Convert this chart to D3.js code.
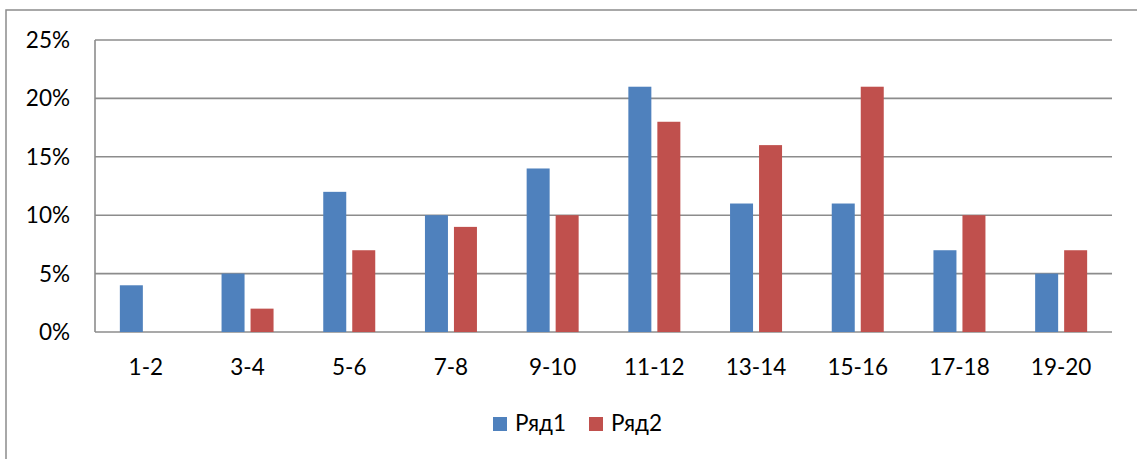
<!DOCTYPE html>
<html>
<head>
<meta charset="utf-8">
<script src="https://d3js.org/d3.v7.min.js"></script>
<style>
	body { margin:0; background:#fff; }
	text { font-family: Lato, "Open Sans", sans-serif; fill:#000; }
	.grid line { stroke:#8c8c8c; stroke-width:1.6px; }
</style>
</head>
<body>
<div class="chartContainer"></div>
<script>
// values (percent)
var categories = ["1-2","3-4","5-6","7-8","9-10","11-12","13-14","15-16","17-18","19-20"];
var series1 = [4,5,12,10,14,21,11,11,7,5];
var series2 = [0,2,7,9,10,18,16,21,10,7];
var seriesNames = ["Ряд1","Ряд2"];
var seriesColors = ["#4f81bd","#c0504d"];
var yTicks = [0,5,10,15,20,25];

var totalWidth = 1137, totalHeight = 459;
var margin = {top: 40, right: 25, bottom: 127, left: 95};
var width = 1112 - margin.left, height = 332 - margin.top;

var svg = d3.select(".chartContainer").append("svg")
	.attr("width", totalWidth)
	.attr("height", totalHeight);

// outer chart border
svg.append("rect")
	.attr("x", 6).attr("y", 10)
	.attr("width", 1200).attr("height", 600)
	.attr("fill", "none")
	.attr("stroke", "#8c8c8c")
	.attr("stroke-width", 1.5);

var g = svg.append("g")
	.attr("transform", "translate(" + margin.left + "," + margin.top + ")");

var x = d3.scaleBand().domain(categories).range([0, width]).paddingInner(0).paddingOuter(0);
var y = d3.scaleLinear().domain([0, 25]).range([height, 0]);

// gridlines
g.append("g").attr("class", "grid")
	.selectAll("line").data(yTicks).enter().append("line")
	.attr("x1", 0).attr("x2", width)
	.attr("y1", function(d) { return y(d); })
	.attr("y2", function(d) { return y(d); });

// left axis line
g.append("line")
	.attr("x1", 0).attr("x2", 0).attr("y1", 0).attr("y2", height)
	.attr("stroke", "#8c8c8c").attr("stroke-width", 1.6);

// y labels
g.selectAll(".ylab").data(yTicks).enter().append("text")
	.attr("class", "ylab")
	.attr("x", -25)
	.attr("y", function(d) { return y(d) + 8; })
	.attr("text-anchor", "end")
	.style("font-size", "22.5px")
	.text(function(d) { return d + "%"; });

// bars
var barW = 23, gap = 6;
var data = [series1, series2];
data.forEach(function(s, si) {
	g.selectAll(".bar" + si).data(s).enter().append("rect")
		.attr("class", "bar" + si)
		.attr("x", function(d, i) {
			var c = x(categories[i]) + x.bandwidth() / 2;
			return si === 0 ? c - gap / 2 - barW : c + gap / 2;
		})
		.attr("width", barW)
		.attr("y", function(d) { return y(d); })
		.attr("height", function(d) { return height - y(d); })
		.attr("fill", seriesColors[si]);
});

// x labels
g.selectAll(".xlab").data(categories).enter().append("text")
	.attr("class", "xlab")
	.attr("x", function(d) { return x(d) + x.bandwidth() / 2; })
	.attr("y", height + 43)
	.attr("text-anchor", "middle")
	.style("font-size", "22.5px")
	.text(function(d) { return d; });

// legend
var legendX = [493, 589];
seriesNames.forEach(function(n, i) {
	svg.append("rect")
		.attr("x", legendX[i]).attr("y", 417)
		.attr("width", 14).attr("height", 14)
		.attr("fill", seriesColors[i]);
	svg.append("text")
		.attr("x", legendX[i] + 22).attr("y", 431)
		.style("font-size", "22.5px")
		.text(n);
});
</script>
</body>
</html>
